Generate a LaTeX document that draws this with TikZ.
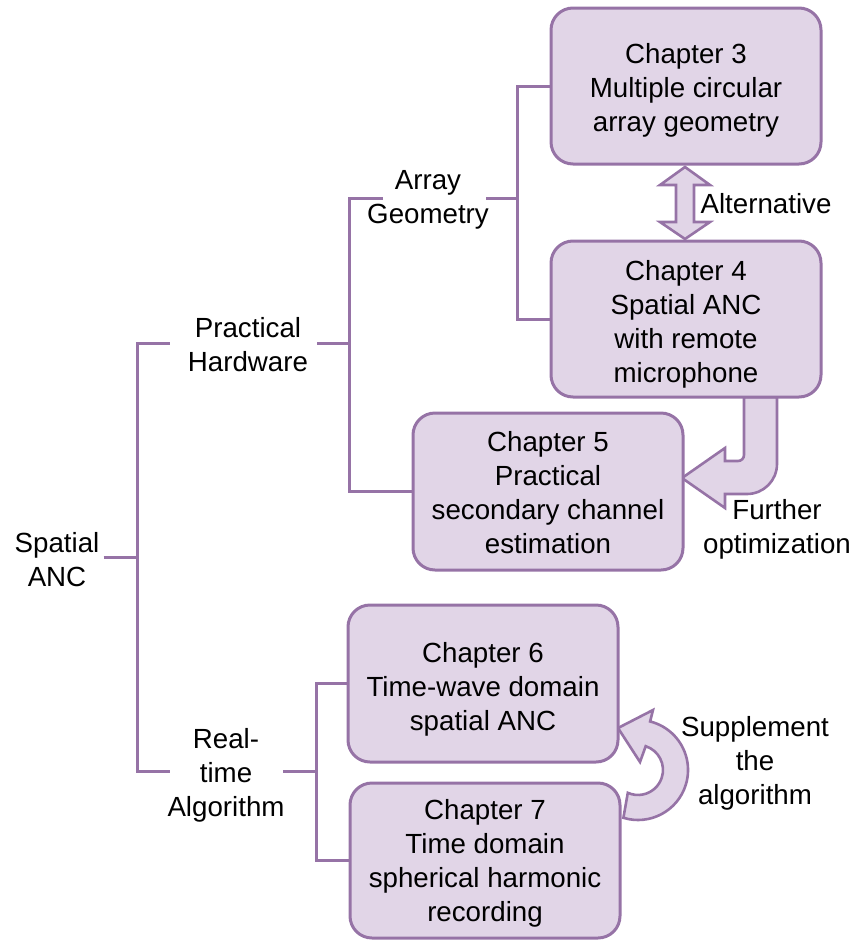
\documentclass[tikz,border=0pt]{standalone}
\usepackage{fontspec}
\setmainfont{Liberation Sans}
\usetikzlibrary{calc}
\definecolor{pfill}{HTML}{E1D5E7}
\definecolor{pline}{HTML}{9673A6}
\tikzset{
  txt/.style={font=\fontsize{27.7}{34}\selectfont, align=center, inner sep=0pt, text=black},
  chbox/.style={draw=pline, fill=pfill, line width=3pt, rounded corners=22pt,
    minimum width=270pt, minimum height=156pt, inner sep=0pt},
  link/.style={draw=pline, line width=3pt},
  blockarrow/.style={draw=pline, fill=pfill, line width=2.6pt, line join=miter},
}
\begin{document}
\begin{tikzpicture}[x=1pt,y=-1pt]
\useasboundingbox (0,0) rectangle (856,940);

% block arrows (drawn first, boxes on top)
\path[blockarrow] (685,167) -- (710,185) -- (694,185) -- (694,222) -- (710,222) -- (685,239)
  -- (660,222) -- (676,222) -- (676,185) -- (660,185) -- cycle;
\path[blockarrow] (744,397) -- (744,455) arc[start angle=0, end angle=90, radius=6] -- (725,461) -- (725,448)
  -- (682,478) -- (725,508) -- (725,494) -- (747,494) arc[start angle=90, end angle=0, radius=30]
  -- (777,397) -- cycle;
\path[blockarrow] (623.4,817.8) arc[start angle=107, end angle=-76, radius=50] -- (653,710) -- (618,728)
  -- (640,762) -- (645.7,746.2) arc[start angle=-72, end angle=114, radius=25] -- cycle;

% chapter boxes
\node[chbox] (ch3) at (686,86) {};
\node[chbox] (ch4) at (686,319) {};
\node[chbox, minimum height=157pt] (ch5) at (548,491.5) {};
\node[chbox, minimum height=157pt] (ch6) at (483,683.5) {};
\node[chbox, minimum height=155pt] (ch7) at (485,860.5) {};
\node[txt] (ch3t) at ([yshift=-4]ch3.center) {Chapter 3\\Multiple circular\\array geometry};
\node[txt] (ch4t) at ([yshift=-5]ch4.center) {Chapter 4\\Spatial ANC\\with remote\\microphone};
\node[txt] (ch5t) at ([yshift=-1]ch5.center) {Chapter 5\\Practical\\secondary channel\\estimation};
\node[txt] (ch6t) at ([yshift=-6]ch6.center) {Chapter 6\\Time-wave domain\\spatial ANC};
\node[txt] (ch7t) at ([yshift=-3]ch7.center) {Chapter 7\\Time domain\\spherical harmonic\\recording};

% category labels
\node[txt] (spatial) at (57,560) {Spatial\\ANC};
\node[txt] (hw) at (248,345) {Practical\\Hardware};
\node[txt] (ag) at (428,200) {Array\\Geometry};
\node[txt] (rt) at (226,775) {Real-\\time\\Algorithm};

% arrow labels
\node[txt] (alt) at (766,204) {Alternative};
\node[txt] (fo) at (777,529) {Further\\optimization};
\node[txt] (sup) at (755,763) {Supplement\\the\\algorithm};

% junctions
\coordinate (j1) at (137,557);
\coordinate (j2) at (349,343);
\coordinate (j3) at (517,198);
\coordinate (j4) at (316,771);

% tree connectors
\draw[link] ([shift={(4,-3)}]spatial.east) -- (j1);
\draw[link] ([shift={(-18,-2)}]hw.west) -| (j1) |- ([shift={(2.5,-4)}]rt.west);
\draw[link] ([shift={(9,-2)}]hw.east) -- (j2);
\draw[link] ([shift={(16,-2)}]ag.west) -| (j2) |- (ch5.west);
\draw[link] ([shift={(-3,-2)}]ag.east) -- (j3);
\draw[link] (ch3.west) -| (j3) |- (ch4.west);
\draw[link] ([shift={(-1.5,-4)}]rt.east) -- (j4);
\draw[link] (ch6.west) -| (j4) |- (ch7.west);
\end{tikzpicture}
\end{document}
